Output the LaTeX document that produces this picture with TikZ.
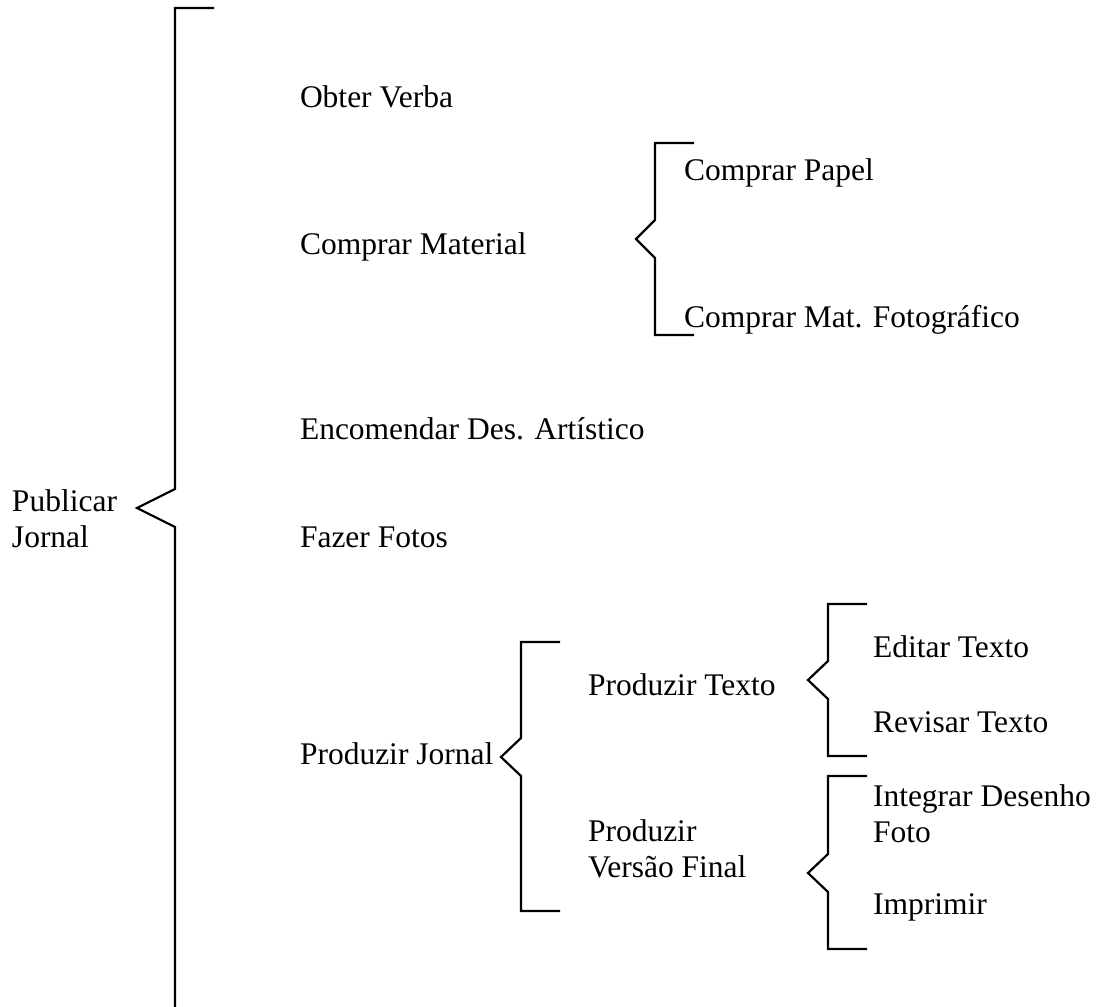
\documentclass[tikz,border=0pt]{standalone}
\usepackage{fontspec}
\setmainfont{Liberation Serif}
\begin{document}
\begin{tikzpicture}[x=1pt,y=-1pt,
  lbl/.style={anchor=base west,inner sep=0pt,outer sep=0pt,align=left,
    font=\fontsize{31.5}{36}\selectfont},
  brk/.style={line width=2.2pt,line join=miter,black}]
\useasboundingbox (0,0) rectangle (1102,1006);
% brace drawn as: top tick, vertical, notch pointing left, vertical, bottom tick
\newcommand\brackettick[6]{% x, top, bottom, tipx, tipy, half notch height
  \draw[brk] (#1+39,#2) -- (#1,#2) -- (#1,#5-#6) -- (#4,#5) -- (#1,#5+#6) -- (#1,#3) -- (#1+39,#3);}

% root (multi-line labels are placed by the baseline of their last line)
\node[lbl] (root) at (12,547) {Publicar\\Jornal};
\draw[brk] (214,8) -- (175,8) -- (175,489) -- (137,508) -- (175,527) -- (175,1010);

% first level
\node[lbl] (verba)   at (300,107) {Obter Verba};
\node[lbl] (mat)     at (300,254) {Comprar Material};
\node[lbl] (des)     at (300,439) {Encomendar Des. Artístico};
\node[lbl] (fotos)   at (300,547) {Fazer Fotos};
\node[lbl] (jornal)  at (300,764) {Produzir Jornal};

% Comprar Material
\brackettick{655}{143}{335}{636}{239}{19}
\node[lbl] (papel)   at (684,180) {Comprar Papel};
\node[lbl] (matfoto) at (684,327) {Comprar Mat. Fotográfico};

% Produzir Jornal
\brackettick{521}{642}{911}{501}{757}{19}
\node[lbl] (texto)   at (588,695) {Produzir Texto};
\node[lbl] (versao)  at (588,877) {Produzir\\Versão Final};

% Produzir Texto
\brackettick{828}{604}{756}{808}{680}{19}
\node[lbl] (editar)  at (873,657) {Editar Texto};
\node[lbl] (revisar) at (873,732) {Revisar Texto};

% Produzir Versao Final
\brackettick{828}{776}{949}{808}{873}{19}
\node[lbl] (integrar) at (873,842) {Integrar Desenho\\Foto};
\node[lbl] (imprimir) at (873,914) {Imprimir};
\end{tikzpicture}
\end{document}
